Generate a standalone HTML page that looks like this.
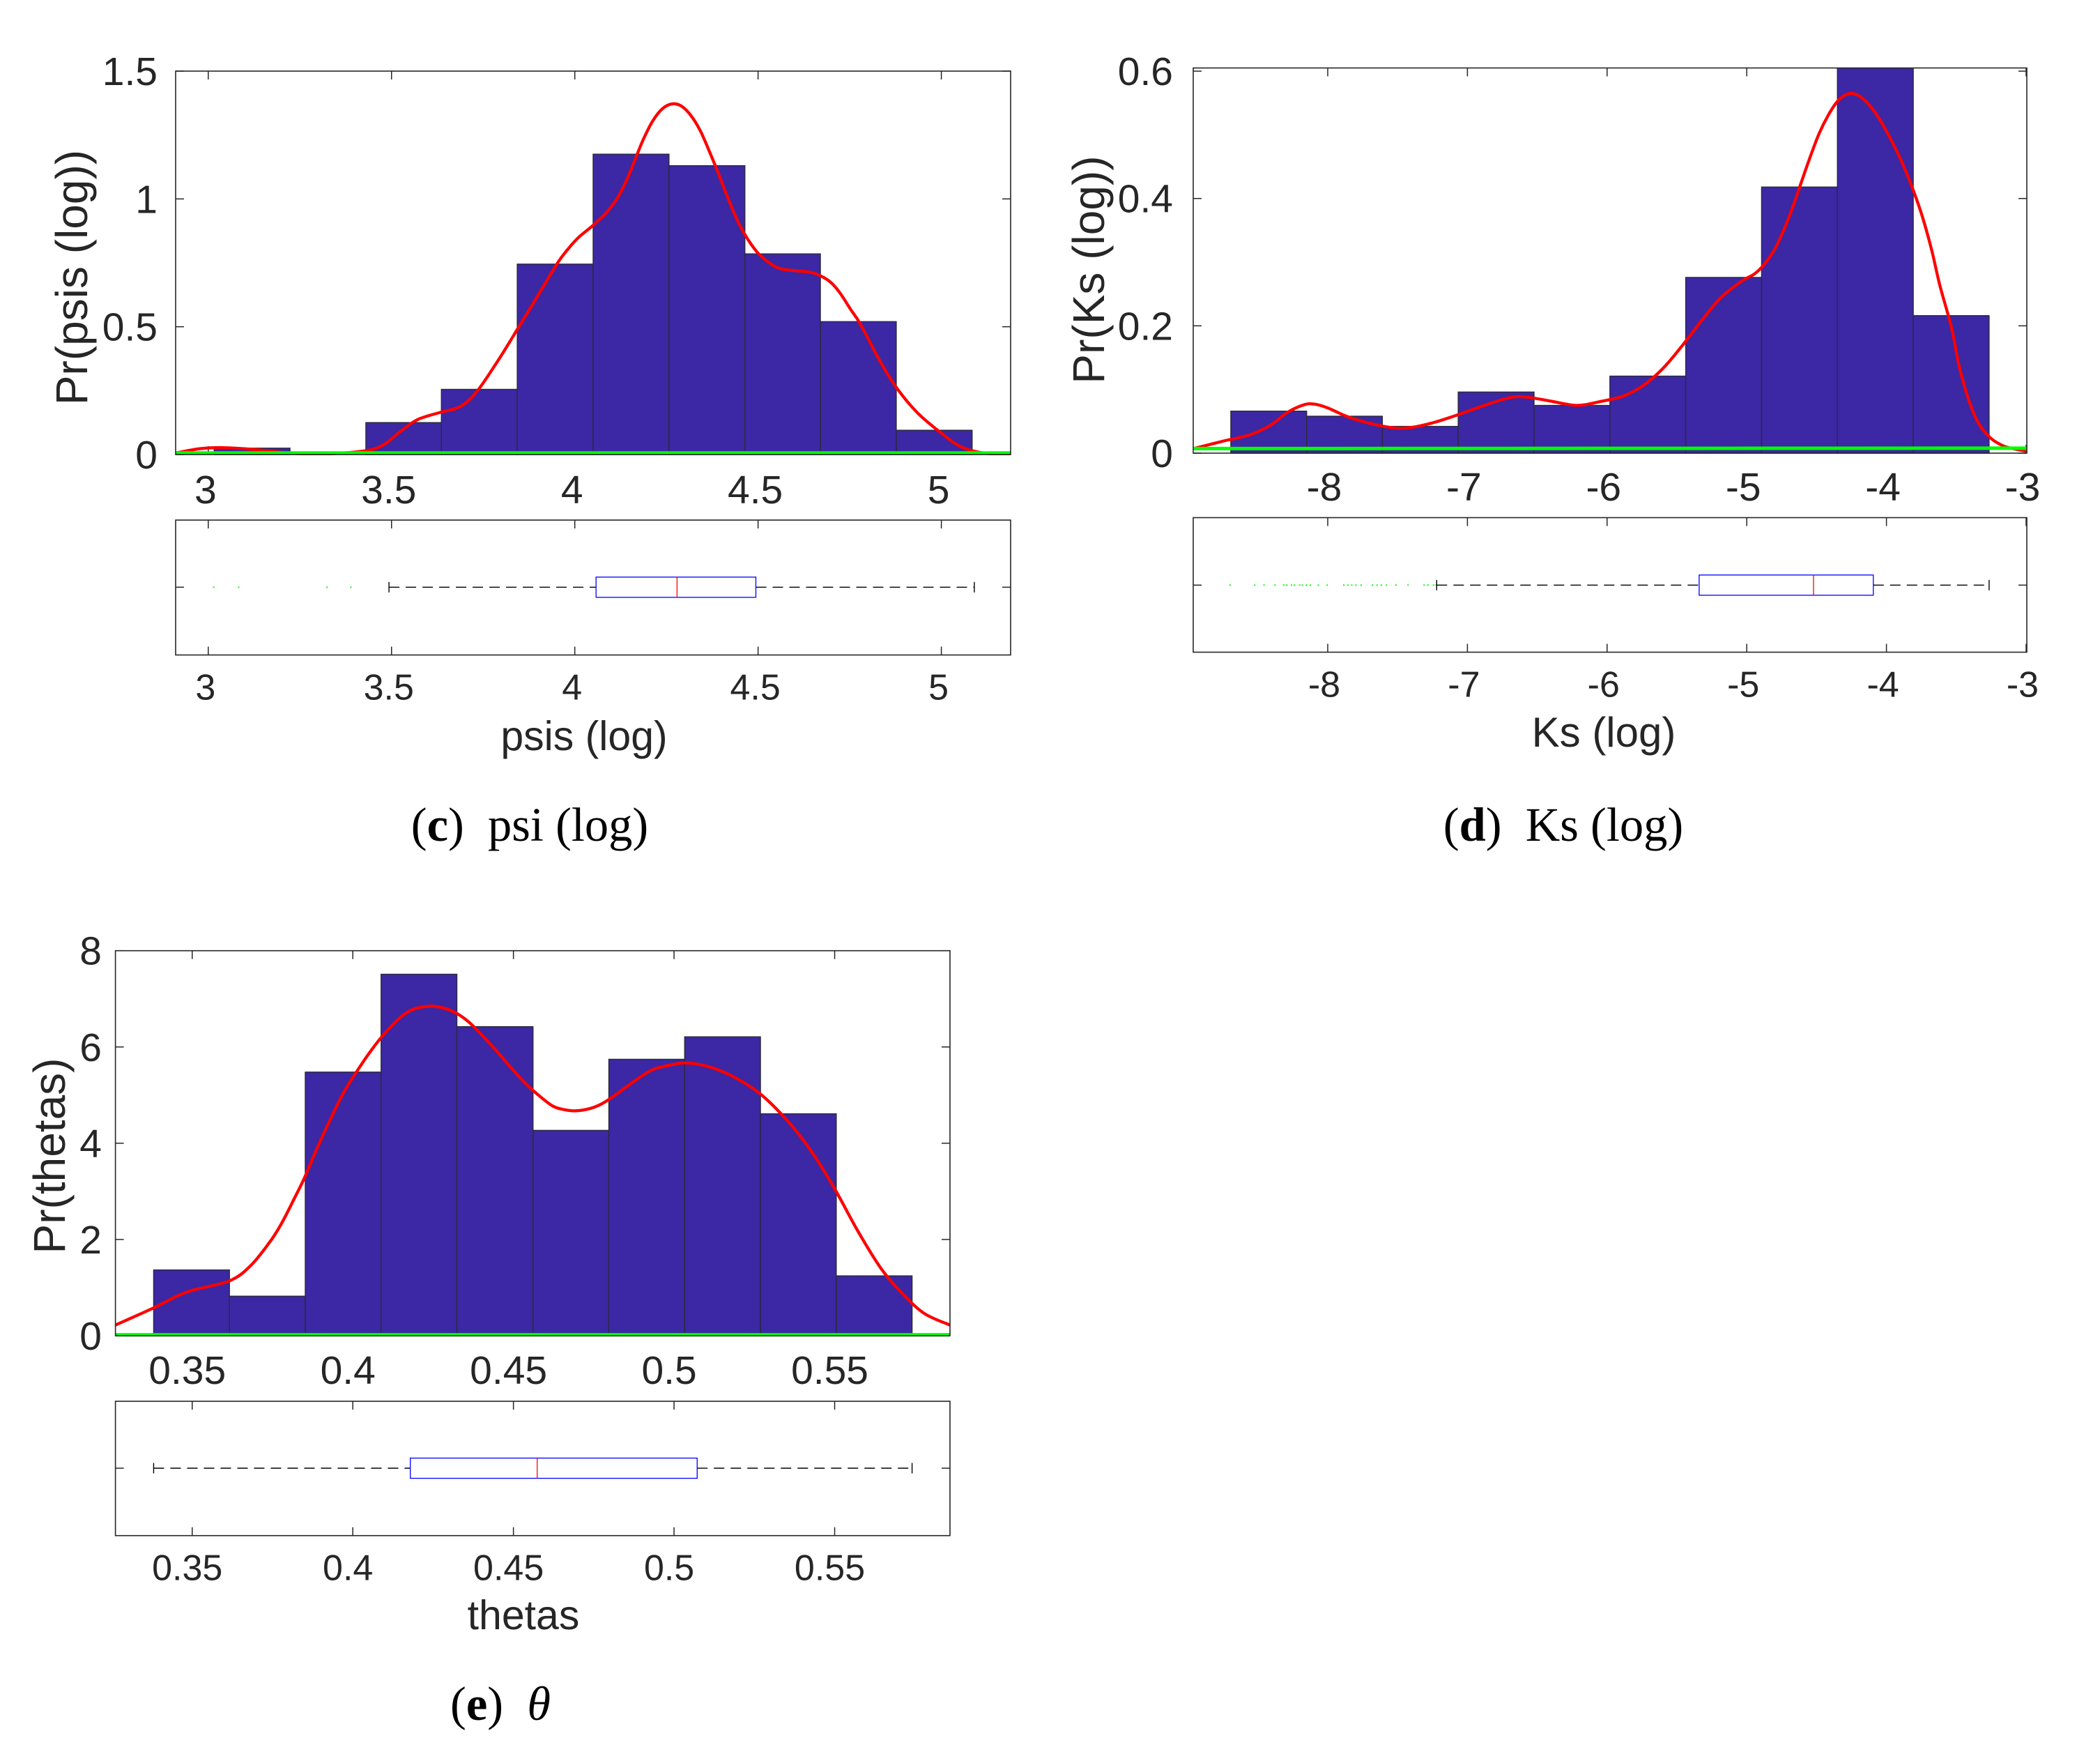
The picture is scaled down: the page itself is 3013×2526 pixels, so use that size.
<!DOCTYPE html>
<html lang="en">
<head>
<meta charset="utf-8">
<title>Histograms and box plots of psi, Ks and theta</title>
<style>
html,body{margin:0;padding:0;background:#fff;}
svg{display:block;}
text{font-family:"Liberation Sans",Arial,sans-serif;fill:#262626;}
.cap text,text.cap{font-family:"Liberation Serif",serif;fill:#000;}
</style>
</head>
<body>
<svg id="fig" xmlns="http://www.w3.org/2000/svg" width="3013" height="2526" viewBox="0 0 3013 2526">
  <rect x="0" y="0" width="3013" height="2526" fill="#fff"/>
  <g id="panel-c"></g>
  <g id="panel-d"></g>
  <g id="panel-e"></g>

  <text transform="translate(125,398) rotate(-90)" text-anchor="middle" font-size="64">Pr(psis (log))</text>
  <text x="838" y="1076" text-anchor="middle" font-size="59">psis (log)</text>
  <text class="cap" x="760" y="1206" text-anchor="middle" font-size="68.5" xml:space="preserve">(<tspan font-weight="bold">c</tspan>)  psi (log)</text>

  <text transform="translate(1584,387) rotate(-90)" text-anchor="middle" font-size="64">Pr(Ks (log))</text>
  <text x="2311" y="1071" text-anchor="middle" font-size="60" dx="-10">Ks (log)</text>
  <text class="cap" x="2243" y="1206" text-anchor="middle" font-size="68.5" xml:space="preserve">(<tspan font-weight="bold">d</tspan>)  Ks (log)</text>

  <text transform="translate(93,1658) rotate(-90)" text-anchor="middle" font-size="64">Pr(thetas)</text>
  <text x="751" y="2337" text-anchor="middle" font-size="59">thetas</text>
  <text class="cap" x="718" y="2467" text-anchor="middle" font-size="68.5" xml:space="preserve">(<tspan font-weight="bold">e</tspan>)  <tspan font-style="italic">θ</tspan></text>
</svg>
<script>
/* ---------- psi (log) data ---------- */
var psiXTicks = [3, 3.5, 4, 4.5, 5];
var psiXTickLabels = ['3', '3.5', '4', '4.5', '5'];
var psiYTicks = [0, 0.5, 1, 1.5];
var psiYTickLabels = ['0', '0.5', '1', '1.5'];
var psiBinEdges = [3.016, 3.223, 3.430, 3.636, 3.843, 4.050, 4.257, 4.464, 4.670, 4.877, 5.084];
var psiBinHeights = [0.025, 0, 0.125, 0.255, 0.745, 1.175, 1.13, 0.785, 0.52, 0.095];
var psiKdeX = [2.911, 2.978, 3.04, 3.124, 3.22, 3.31, 3.43, 3.48, 3.524, 3.57, 3.633, 3.688, 3.733, 3.788, 3.823, 3.842, 3.883, 3.921, 3.956, 3.985, 4.013, 4.051, 4.086, 4.115, 4.14, 4.165, 4.187, 4.213, 4.24, 4.267, 4.292, 4.318, 4.343, 4.368, 4.39, 4.416, 4.441, 4.466, 4.495, 4.52, 4.546, 4.571, 4.619, 4.647, 4.672, 4.698, 4.723, 4.752, 4.78, 4.834, 4.88, 4.935, 4.998, 5.05, 5.107, 5.189];
var psiKdeY = [0.006, 0.023, 0.027, 0.02, 0.006, 0.002, 0.015, 0.04, 0.09, 0.136, 0.165, 0.188, 0.247, 0.362, 0.442, 0.487, 0.583, 0.674, 0.756, 0.81, 0.853, 0.898, 0.946, 1.001, 1.069, 1.156, 1.233, 1.306, 1.354, 1.372, 1.362, 1.324, 1.265, 1.183, 1.106, 1.01, 0.924, 0.856, 0.796, 0.762, 0.736, 0.724, 0.717, 0.712, 0.698, 0.674, 0.633, 0.569, 0.508, 0.362, 0.257, 0.163, 0.086, 0.033, 0.008, -0.004];
var psiBaseline = [0.006, 0.006];
var psiBoxStats = [3.493, 4.058, 4.279, 4.494, 5.09];
var psiOutliers = [3.015, 3.083, 3.324, 3.389];

/* ---------- Ks (log) data ---------- */
var ksXTicks = [-8, -7, -6, -5, -4, -3];
var ksXTickLabels = ['-8', '-7', '-6', '-5', '-4', '-3'];
var ksYTicks = [0, 0.2, 0.4, 0.6];
var ksYTickLabels = ['0', '0.2', '0.4', '0.6'];
var ksBinEdges = [-8.694, -8.151, -7.609, -7.066, -6.523, -5.98, -5.437, -4.894, -4.351, -3.808, -3.265];
var ksBinHeights = [0.066, 0.058, 0.042, 0.096, 0.075, 0.121, 0.276, 0.418, 0.62, 0.216];
var ksKdeX = [-8.963, -8.747, -8.554, -8.409, -8.289, -8.169, -8.096, -8, -7.855, -7.663, -7.47, -7.277, -7.085, -6.892, -6.699, -6.579, -6.41, -6.218, -6.049, -5.88, -5.736, -5.592, -5.447, -5.303, -5.182, -5.031, -4.948, -4.881, -4.806, -4.74, -4.673, -4.615, -4.548, -4.482, -4.416, -4.349, -4.279, -4.212, -4.141, -4.074, -4.008, -3.95, -3.883, -3.808, -3.742, -3.675, -3.617, -3.534, -3.472, -3.376, -3.279, -3.159, -2.995];
var ksKdeY = [0.007, 0.019, 0.029, 0.044, 0.064, 0.076, 0.077, 0.071, 0.057, 0.045, 0.039, 0.046, 0.059, 0.074, 0.087, 0.088, 0.082, 0.075, 0.081, 0.09, 0.107, 0.135, 0.173, 0.214, 0.245, 0.271, 0.281, 0.295, 0.318, 0.348, 0.385, 0.422, 0.464, 0.502, 0.531, 0.553, 0.564, 0.563, 0.551, 0.533, 0.509, 0.485, 0.454, 0.413, 0.371, 0.318, 0.263, 0.197, 0.13, 0.063, 0.029, 0.011, 0.003];
var ksBaseline = [0.0072, 0.0078];
var ksBoxStats = [-7.22, -5.341, -4.522, -4.094, -3.265];
var ksOutliers = [-8.699, -8.523, -8.456, -8.377, -8.316, -8.293, -8.259, -8.239, -8.201, -8.182, -8.153, -8.125, -8.067, -8.004, -7.885, -7.856, -7.828, -7.799, -7.761, -7.68, -7.646, -7.617, -7.579, -7.511, -7.425, -7.31, -7.282, -7.243, -7.224];

/* ---------- theta data ---------- */
var thetaXTicks = [0.35, 0.4, 0.45, 0.5, 0.55];
var thetaXTickLabels = ['0.35', '0.4', '0.45', '0.5', '0.55'];
var thetaYTicks = [0, 2, 4, 6, 8];
var thetaYTickLabels = ['0', '2', '4', '6', '8'];
var thetaBinEdges = [0.338, 0.3616, 0.3852, 0.4088, 0.4324, 0.4561, 0.4797, 0.5033, 0.5269, 0.5505, 0.5741];
var thetaBinHeights = [1.367, 0.822, 5.478, 7.511, 6.422, 4.267, 5.744, 6.211, 4.611, 1.244];
var thetaKdeX = [0.3261, 0.338, 0.3452, 0.3504, 0.3616, 0.3681, 0.3744, 0.378, 0.3817, 0.3849, 0.3889, 0.3929, 0.3972, 0.4015, 0.4052, 0.4088, 0.4124, 0.416, 0.4196, 0.4243, 0.4283, 0.4323, 0.4363, 0.4406, 0.4449, 0.4493, 0.4536, 0.458, 0.4623, 0.4659, 0.4695, 0.4739, 0.4775, 0.4811, 0.4916, 0.4979, 0.5041, 0.5114, 0.5186, 0.5269, 0.5353, 0.5425, 0.5498, 0.5571, 0.5643, 0.5706, 0.5778, 0.5859];
var thetaKdeY = [0.222, 0.578, 0.82, 0.95, 1.14, 1.45, 1.97, 2.356, 2.839, 3.273, 3.9, 4.48, 5.06, 5.518, 5.88, 6.195, 6.46, 6.677, 6.8, 6.847, 6.808, 6.7, 6.508, 6.218, 5.905, 5.566, 5.253, 4.987, 4.77, 4.697, 4.674, 4.722, 4.819, 4.973, 5.467, 5.611, 5.667, 5.578, 5.378, 5.022, 4.467, 3.856, 3.078, 2.189, 1.411, 0.911, 0.467, 0.222];
var thetaBaseline = [0.02, 0.02];
var thetaBoxStats = [0.338, 0.4179, 0.4574, 0.5072, 0.5741];
var thetaOutliers = [];

var SVGNS = 'http://www.w3.org/2000/svg';

function make(parent, tag, attrs, name) {
  var el = document.createElementNS(SVGNS, tag);
  for (var k in attrs) { el.setAttribute(k, attrs[k]); }
  
  
  parent.appendChild(el);
  return el;
}

function smoothPath(pts) {
  var d = 'M' + pts[0][0].toFixed(2) + ' ' + pts[0][1].toFixed(2);
  for (var i = 0; i < pts.length - 1; i++) {
    var p0 = pts[Math.max(i - 1, 0)], p1 = pts[i], p2 = pts[i + 1], p3 = pts[Math.min(i + 2, pts.length - 1)];
    var c1x = p1[0] + (p2[0] - p0[0]) / 6, c1y = p1[1] + (p2[1] - p0[1]) / 6;
    var c2x = p2[0] - (p3[0] - p1[0]) / 6, c2y = p2[1] - (p3[1] - p1[1]) / 6;
    d += 'C' + c1x.toFixed(2) + ' ' + c1y.toFixed(2) + ' ' + c2x.toFixed(2) + ' ' + c2y.toFixed(2) + ' ' + p2[0].toFixed(2) + ' ' + p2[1].toFixed(2);
  }
  return d;
}

function drawPanel(root, id, geo, xlim, ylim, xTicks, xLabels, yTicks, yLabels, edges, heights, kdeX, kdeY, baseline, box, outliers) {
  var xs = function (v) { return geo.left + (v - xlim[0]) / (xlim[1] - xlim[0]) * (geo.right - geo.left); };
  var ys = function (v) { return geo.bottom - (v - ylim[0]) / (ylim[1] - ylim[0]) * (geo.bottom - geo.top); };
  var AX = '#262626', TL = 12;

  /* clip for histogram axes */
  var defs = make(root, 'defs', {}, id + '-defs');
  var clip = make(defs, 'clipPath', { id: id + '-clip' }, id + '-clip');
  make(clip, 'rect', { x: geo.left, y: geo.top, width: geo.right - geo.left, height: geo.bottom - geo.top + 1 }, id + '-clip-rect');

  /* histogram ticks */
  var i, x, y;
  for (i = 0; i < xTicks.length; i++) {
    x = xs(xTicks[i]);
    make(root, 'line', { x1: x, x2: x, y1: geo.top, y2: geo.top + TL, stroke: AX, 'stroke-width': 1.5 }, 'hist-x-tick-top');
    make(root, 'line', { x1: x, x2: x, y1: geo.bottom, y2: geo.bottom - TL, stroke: AX, 'stroke-width': 1.5 }, 'hist-x-tick-bottom');
    var lab = make(root, 'text', { x: x - geo.labelDx - 1, y: geo.xLabelY - 1, 'text-anchor': 'middle', 'font-size': 57 }, 'hist-x-tick-label');
    lab.textContent = xLabels[i];
    var lab2 = make(root, 'text', { x: x - geo.labelDx - 1, y: geo.boxLabelY - 1.5, 'text-anchor': 'middle', 'font-size': 52 }, 'box-x-tick-label');
    lab2.textContent = xLabels[i];
  }
  for (i = 0; i < yTicks.length; i++) {
    y = ys(yTicks[i]);
    make(root, 'line', { x1: geo.left, x2: geo.left + TL, y1: y, y2: y, stroke: AX, 'stroke-width': 1.5 }, 'hist-y-tick-left');
    make(root, 'line', { x1: geo.right, x2: geo.right - TL, y1: y, y2: y, stroke: AX, 'stroke-width': 1.5 }, 'hist-y-tick-right');
    var yl = make(root, 'text', { x: geo.yLabelX, y: Math.min(y, geo.bottom) + 20, 'text-anchor': 'end', 'font-size': 57 }, 'hist-y-tick-label');
    yl.textContent = yLabels[i];
  }

  /* bars */
  var barGroup = make(root, 'g', { 'clip-path': 'url(#' + id + '-clip)' }, id + '-bars');
  for (i = 0; i < heights.length; i++) {
    if (heights[i] <= 0) { continue; }
    var top = ys(heights[i]);
    make(barGroup, 'rect', {
      x: xs(edges[i]), y: top, width: xs(edges[i + 1]) - xs(edges[i]), height: geo.bottom - top,
      fill: '#3c27a4', stroke: '#2a2a3c', 'stroke-width': 1.4
    }, 'histogram-bar');
  }

  /* density curve and green baseline */
  var pts = [];
  for (i = 0; i < kdeX.length; i++) { pts.push([xs(kdeX[i]), ys(kdeY[i])]); }
  make(root, 'path', { d: smoothPath(pts), fill: 'none', stroke: '#ff0000', 'stroke-width': 4.3, 'stroke-linejoin': 'round', 'clip-path': 'url(#' + id + '-clip)' }, 'density-curve');
  make(root, 'line', { x1: geo.left, x2: geo.right, y1: ys(baseline[0]), y2: ys(baseline[1]), stroke: '#00ff00', 'stroke-width': 5 }, 'green-baseline');

  /* frame */
  make(root, 'rect', { x: geo.left, y: geo.top, width: geo.right - geo.left, height: geo.bottom - geo.top, fill: 'none', stroke: AX, 'stroke-width': 1.6 }, 'histogram-axes-frame');

  /* box plot axes */
  for (i = 0; i < xTicks.length; i++) {
    x = xs(xTicks[i]);
    make(root, 'line', { x1: x, x2: x, y1: geo.boxTop, y2: geo.boxTop + TL, stroke: AX, 'stroke-width': 1.5 }, 'box-x-tick-top');
    make(root, 'line', { x1: x, x2: x, y1: geo.boxBottom, y2: geo.boxBottom - TL, stroke: AX, 'stroke-width': 1.5 }, 'box-x-tick-bottom');
  }
  var cy = geo.boxMid;
  make(root, 'line', { x1: geo.left, x2: geo.left + TL, y1: cy, y2: cy, stroke: AX, 'stroke-width': 1.5 }, 'box-y-tick-left');
  make(root, 'line', { x1: geo.right, x2: geo.right - TL, y1: cy, y2: cy, stroke: AX, 'stroke-width': 1.5 }, 'box-y-tick-right');
  make(root, 'rect', { x: geo.left, y: geo.boxTop, width: geo.right - geo.left, height: geo.boxBottom - geo.boxTop, fill: 'none', stroke: AX, 'stroke-width': 1.6 }, 'box-axes-frame');

  /* outliers */
  for (i = 0; i < outliers.length; i++) {
    make(root, 'rect', { x: xs(outliers[i]) - 1, y: cy - 1, width: 2, height: 2, fill: '#00ff00' }, 'box-outlier');
  }

  /* whiskers */
  var ql = xs(box[1]), qm = xs(box[2]), qh = xs(box[3]), lo = xs(box[0]), hi = xs(box[4]);
  make(root, 'line', { x1: lo, x2: ql, y1: cy, y2: cy, stroke: '#000', 'stroke-width': 1.4, 'stroke-dasharray': '15 9' }, 'lower-whisker');
  make(root, 'line', { x1: qh, x2: hi, y1: cy, y2: cy, stroke: '#000', 'stroke-width': 1.4, 'stroke-dasharray': '15 9' }, 'upper-whisker');
  make(root, 'line', { x1: lo, x2: lo, y1: cy - 7.5, y2: cy + 7.5, stroke: '#000', 'stroke-width': 1.4 }, 'lower-whisker-cap');
  make(root, 'line', { x1: hi, x2: hi, y1: cy - 7.5, y2: cy + 7.5, stroke: '#000', 'stroke-width': 1.4 }, 'upper-whisker-cap');

  /* box */
  make(root, 'rect', { x: ql, y: cy - 14.5, width: qh - ql, height: 29, fill: 'none', stroke: '#0000ff', 'stroke-width': 1.3 }, 'box-iqr');
  make(root, 'line', { x1: qm, x2: qm, y1: cy - 14.5, y2: cy + 14.5, stroke: '#ff0000', 'stroke-width': 1.3 }, 'box-median');
}

drawPanel(document.getElementById('panel-c'), 'psi',
  { left: 252, right: 1450, top: 102, bottom: 652, boxTop: 746, boxBottom: 939.5, boxMid: 842.3, xLabelY: 723, boxLabelY: 1005, yLabelX: 226, labelDx: 3 },
  [2.911, 5.189], [0, 1.5],
  psiXTicks, psiXTickLabels, psiYTicks, psiYTickLabels, psiBinEdges, psiBinHeights, psiKdeX, psiKdeY, psiBaseline, psiBoxStats, psiOutliers);

drawPanel(document.getElementById('panel-d'), 'ks',
  { left: 1712, right: 2908, top: 97.5, bottom: 650, boxTop: 742.5, boxBottom: 935.5, boxMid: 839.3, xLabelY: 719, boxLabelY: 1001, yLabelX: 1683, labelDx: 4 },
  [-8.963, -2.995], [0, 0.605],
  ksXTicks, ksXTickLabels, ksYTicks, ksYTickLabels, ksBinEdges, ksBinHeights, ksKdeX, ksKdeY, ksBaseline, ksBoxStats, ksOutliers);

drawPanel(document.getElementById('panel-e'), 'theta',
  { left: 165.6, right: 1363, top: 1363.7, bottom: 1916, boxTop: 2010, boxBottom: 2202.7, boxMid: 2106, xLabelY: 1986, boxLabelY: 2268, yLabelX: 146, labelDx: 6 },
  [0.3261, 0.5859], [0, 8],
  thetaXTicks, thetaXTickLabels, thetaYTicks, thetaYTickLabels, thetaBinEdges, thetaBinHeights, thetaKdeX, thetaKdeY, thetaBaseline, thetaBoxStats, thetaOutliers);
</script>
</body>
</html>
